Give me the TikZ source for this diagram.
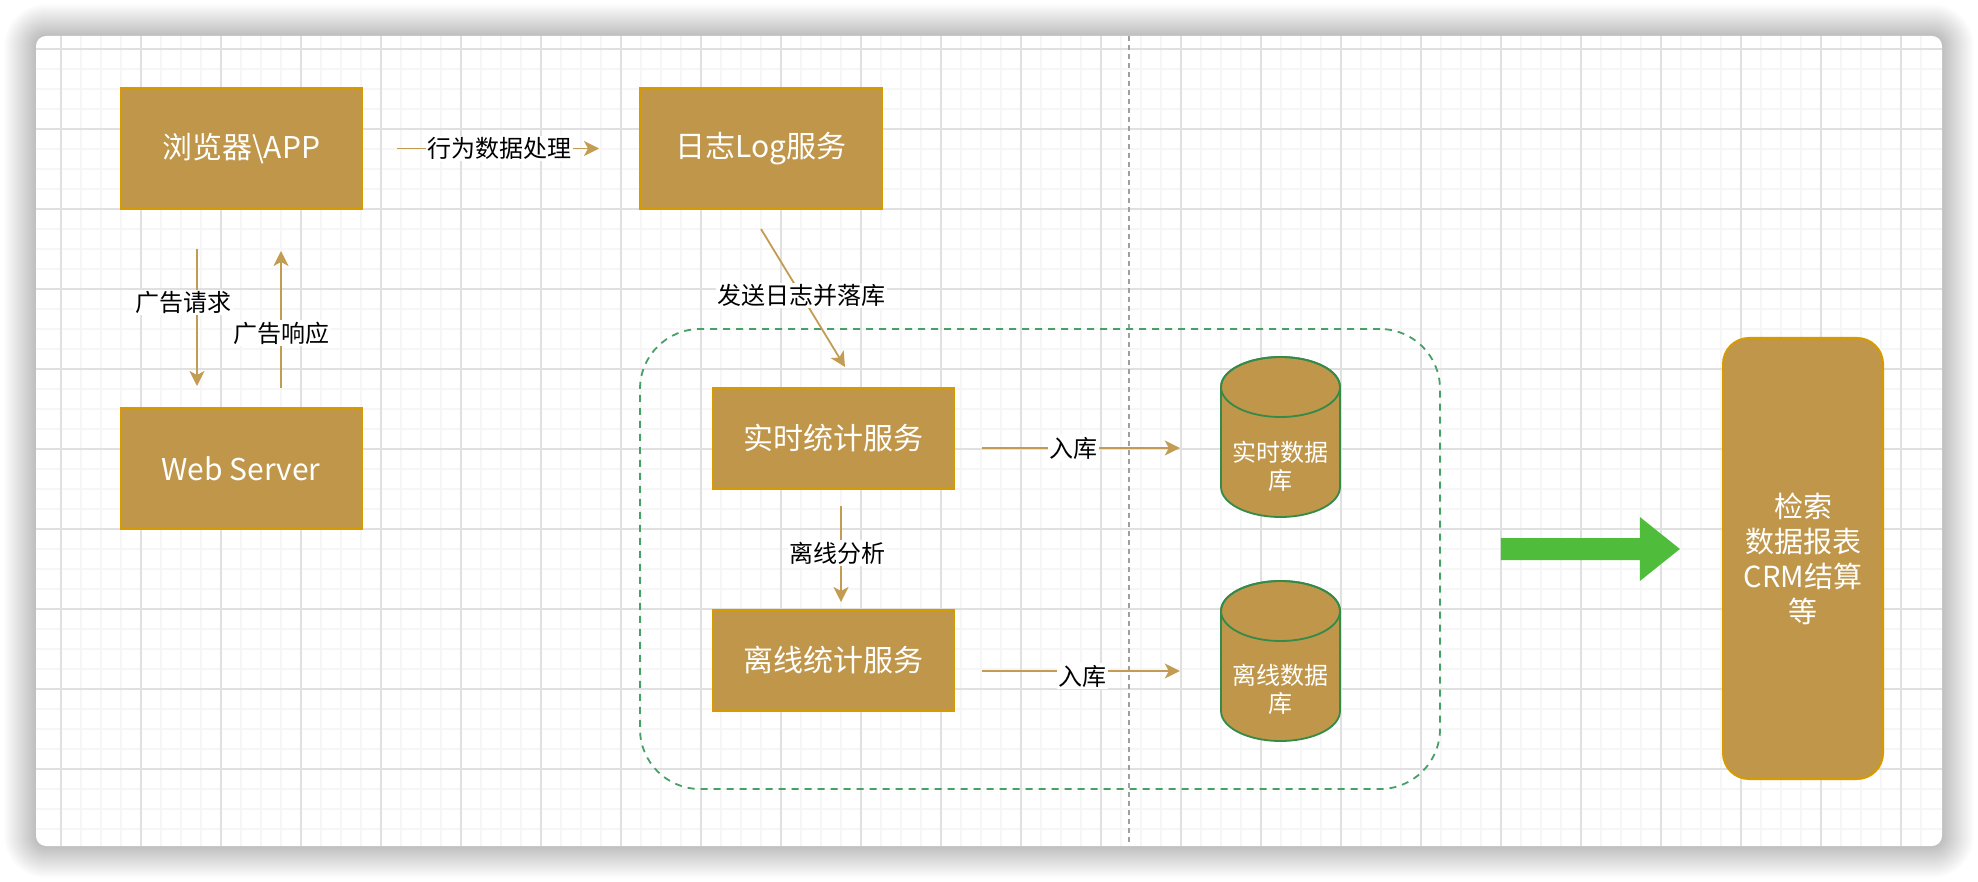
\documentclass[tikz,border=0pt]{standalone}
\usepackage{fontspec}
\setmainfont{Noto Sans CJK SC}
\usetikzlibrary{arrows.meta,calc}
\definecolor{boxfill}{RGB}{191,150,74}
\definecolor{boxline}{RGB}{215,155,0}
\definecolor{arrowc}{RGB}{194,156,82}
\definecolor{grpgreen}{RGB}{72,160,104}
\definecolor{cylline}{RGB}{52,138,72}
\definecolor{bigarrow}{RGB}{80,188,60}
\definecolor{minorgrid}{RGB}{246,246,246}
\definecolor{majorgrid}{RGB}{224,224,224}
\tikzset{
  svc/.style={draw=boxline, fill=boxfill, line width=2pt, text=white, inner sep=2pt,
    font=\fontsize{30}{34}\selectfont},
  flow/.style={draw=arrowc, line width=1.8pt, -{Stealth[length=15pt,width=15pt,inset=4pt]}},
  elabel/.style={fill=white, inner sep=1.5pt, text=black, font=\fontsize{24}{28}\selectfont},
  dbbox/.style={minimum width=119pt, minimum height=160pt, inner sep=0pt},
  dbtext/.style={text=white, align=center, font=\fontsize{24}{28}\selectfont},
  cyl/.style={fill=boxfill, draw=cylline, line width=1.8pt},
  grpbox/.style={draw=grpgreen, line width=1.8pt, dash pattern=on 7pt off 6pt, rounded corners=60pt, inner sep=0pt}
}
\newcommand\dbcyl[3]{%
  \filldraw[cyl] (#1-59.5,#2+30) -- (#1-59.5,#3-30)
    arc[start angle=180,end angle=0,x radius=59.5,y radius=30]
    -- (#1+59.5,#2+30)
    arc[start angle=0,end angle=-180,x radius=59.5,y radius=30] -- cycle;
  \draw[cylline,line width=1.8pt] (#1,#2+30) ellipse[x radius=59.5,y radius=30];}
\begin{document}
\begin{tikzpicture}[x=1pt,y=-1pt]
\useasboundingbox (0,0) rectangle (1978,882);
\fill[white] (0,0) rectangle (1978,882);
% window shadow
\foreach \i in {1,...,32}{
  \pgfmathsetmacro\rr{10+\i}
  \fill[black,opacity=0.0065,rounded corners=\rr pt] (36-\i,36-\i) rectangle (1942+\i,846+\i);
}
\fill[white,rounded corners=10pt] (36,36) rectangle (1942,846);
% grid
\begin{scope}
  \clip[rounded corners=10pt] (36,36) rectangle (1942,846);
  \foreach \x in {61,81,...,1921} \draw[minorgrid,line width=1.5pt] (\x,36) -- (\x,846);
  \foreach \y in {49,69,...,829} \draw[minorgrid,line width=1.5pt] (36,\y) -- (1942,\y);
  \foreach \x in {61,141,...,1901} \draw[majorgrid,line width=1.5pt] (\x,36) -- (\x,846);
  \foreach \y in {49,129,...,769} \draw[majorgrid,line width=1.5pt] (36,\y) -- (1942,\y);
  \draw[gray!75,line width=1.2pt,dash pattern=on 5pt off 4pt] (1129,36) -- (1129,846);
\end{scope}

% group
\node[grpbox, minimum width=800pt, minimum height=460pt] (grp) at (1040,559) {};

% boxes
\node[svc, minimum width=241pt, minimum height=121pt] (app) at (241,148.5) {浏览器\textbackslash APP};
\node[svc, minimum width=242pt, minimum height=121pt] (log) at (761,148.5) {日志Log服务};
\node[svc, minimum width=241pt, minimum height=121pt] (web) at (241,468.5) {Web Server};
\node[svc, minimum width=241pt, minimum height=101pt] (rt) at (833.5,438.5) {实时统计服务};
\node[svc, minimum width=241pt, minimum height=101pt] (off) at (833.5,660.5) {离线统计服务};
\node[svc, rounded corners=26pt, minimum width=160pt, minimum height=441pt, align=center,
  font=\fontsize{29}{35}\selectfont] (res) at (1803,558.5) {检索\\数据报表\\CRM结算\\等};

% databases
\node[dbbox] (rtdb) at (1280.5,437) {};
\dbcyl{1280.5}{357}{517}
\node[dbtext] at ($(rtdb.center)+(0,29)$) {实时数据\\库};
\node[dbbox] (offdb) at (1280.5,661) {};
\dbcyl{1280.5}{581}{741}
\node[dbtext] at ($(offdb.center)+(0,28)$) {离线数据\\库};

% connectors
\draw[flow] ($(app.east)+(34,0)$) -- node[elabel,pos=0.51] {行为数据处理} ($(log.west)+(-40,0)$);
\draw[flow] ($(app.south)+(-44,39)$) -- node[elabel,pos=0.39,xshift=-14pt] {广告请求} ($(web.north)+(-44,-21)$);
\draw[flow] ($(web.north)+(40,-19)$) -- node[elabel,pos=0.4] {广告响应} ($(app.south)+(40,41)$);
\draw[flow] ($(log.south)+(0,19)$) -- node[elabel,pos=0.48] {发送日志并落库} ($(rt.north)+(11.5,-20)$);
\draw[flow] ($(rt.south)+(7.5,16)$) -- node[elabel,pos=0.49,xshift=-4pt] {离线分析} ($(off.north)+(7.5,-7)$);
\draw[flow] ($(rt.east)+(27,9.5)$) -- node[elabel,pos=0.46] {入库} ($(rtdb.west)+(-41,11)$);
\draw[flow] ($(off.east)+(27,10.5)$) -- node[elabel,pos=0.51,yshift=-5pt] {入库} ($(offdb.west)+(-41,10)$);

% big green arrow
\fill[bigarrow] ($(grp.east)+(60,-21)$) -- ++(139,0) -- ++(0,-21) -- ++(40,32) -- ++(-40,32) -- ++(0,-21) -- ++(-139,0) -- cycle;
\end{tikzpicture}
\end{document}
